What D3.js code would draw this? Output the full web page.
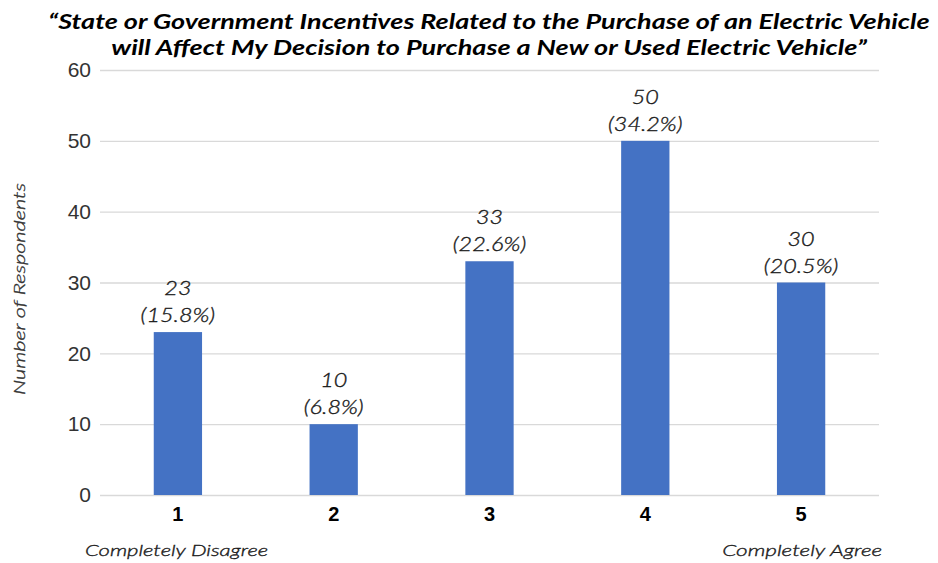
<!DOCTYPE html>
<html>
<head>
<meta charset="utf-8">
<script src="https://cdn.jsdelivr.net/npm/d3@7"></script>
<style>
  html, body { margin: 0; padding: 0; background: #fff; }
  svg { display: block; font-family: "Lato", "DejaVu Sans", sans-serif; }
</style>
</head>
<body>
<svg id="chart" width="938" height="563"></svg>
<script>
// Survey responses on a 1–5 agreement scale
const categories = ["1", "2", "3", "4", "5"];
const counts = [23, 10, 33, 50, 30];
const percents = ["15.8%", "6.8%", "22.6%", "34.2%", "20.5%"];
const yTicks = [0, 10, 20, 30, 40, 50, 60];
const titleLines = [
  "\u201CState or Government Incentives Related to the Purchase of an Electric Vehicle",
  "will Affect My Decision to Purchase a New or Used Electric Vehicle\u201D"
];
const yAxisTitle = "Number of Respondents";
const scaleEnds = ["Completely Disagree", "Completely Agree"];

const svg = d3.select("#chart");
const margin = { left: 100, right: 59, top: 70, bottom: 68 };
const W = 938, H = 563;

// Places a text at (x, y) and stretches it horizontally to a target width
function fitText(parent, str, x0, y0, width, anchor, style, rotate) {
  const g = parent.append("g");
  const t = g.append("text").attr("text-anchor", anchor).call(style).text(str);
  const k = width / t.node().getComputedTextLength();
  g.attr("transform", `translate(${x0},${y0})` + (rotate ? ` rotate(${rotate})` : "") + ` scale(${k},1)`);
  return t;
}

// Light italic with a hairline outline so it reads dark but thin
const thinItalic = (s, size, color) => s
  .attr("fill", color).attr("stroke", color).attr("stroke-width", 0.35)
  .style("font-size", size).style("font-style", "italic").style("font-weight", "300");

const x = d3.scaleBand()
  .domain(categories)
  .range([margin.left, W - margin.right])
  .paddingInner(0.69)
  .paddingOuter(0.345);

const y = d3.scaleLinear()
  .domain([0, 60])
  .range([H - margin.bottom, margin.top]);

// Gridlines and value ticks
const yAxis = d3.axisLeft(y)
  .tickValues(yTicks)
  .tickSize(-(W - margin.left - margin.right))
  .tickPadding(10)
  .tickFormat(d3.format("d"));

const gy = svg.append("g")
  .attr("transform", `translate(${margin.left},0)`)
  .call(yAxis);
gy.select(".domain").remove();
gy.selectAll(".tick line").attr("stroke", "#d9d9d9").attr("stroke-width", 1.3);
gy.selectAll(".tick text")
  .attr("x", -9)
  .attr("fill", "#333")
  .style("font-size", "21px")
  .style("font-weight", "400");

// Bars
svg.append("g").selectAll("rect")
  .data(counts)
  .join("rect")
  .attr("x", (d, i) => x(categories[i]))
  .attr("width", x.bandwidth())
  .attr("y", d => y(d))
  .attr("height", d => y(0) - y(d))
  .attr("fill", "#4472C4");

// Value labels: count over percentage
const lbl = svg.append("g").selectAll("text")
  .data(counts)
  .join("text")
  .attr("text-anchor", "middle")
  .call(thinItalic, "19.5px", "#1a1a1a")
  .attr("transform", (d, i) => `translate(${x(categories[i]) + x.bandwidth() / 2},${y(d) - 10}) scale(1.2,1)`);
lbl.append("tspan").attr("x", 0).attr("y", -27).text(d => d);
lbl.append("tspan").attr("x", 0).attr("y", 0).text((d, i) => `(${percents[i]})`);

// Category labels
const xAxis = d3.axisBottom(x).tickSize(0).tickPadding(12);
const gx = svg.append("g")
  .attr("transform", `translate(0,${y(0)})`)
  .call(xAxis);
gx.select(".domain").remove();
gx.selectAll(".tick text")
  .attr("fill", "#000")
  .style("font-size", "20px")
  .style("font-weight", "bold");

// Scale end descriptions
fitText(svg, scaleEnds[0], 85, 556, 183, "start", s => thinItalic(s, "16.5px", "#1a1a1a"));
fitText(svg, scaleEnds[1], 882, 556, 160, "end", s => thinItalic(s, "16.5px", "#1a1a1a"));

// Y axis title
fitText(svg, yAxisTitle, 25, 289, 212, "middle", s => thinItalic(s, "16px", "#333"), -90);

// Title, two centred lines
const titleWidths = [882, 756];
titleLines.forEach((t, i) => {
  fitText(svg, t, 489, 29 + i * 26, titleWidths[i], "middle",
    s => s.attr("fill", "#000").style("font-size", "21px").style("font-style", "italic").style("font-weight", "bold"));
});
</script>
</body>
</html>
